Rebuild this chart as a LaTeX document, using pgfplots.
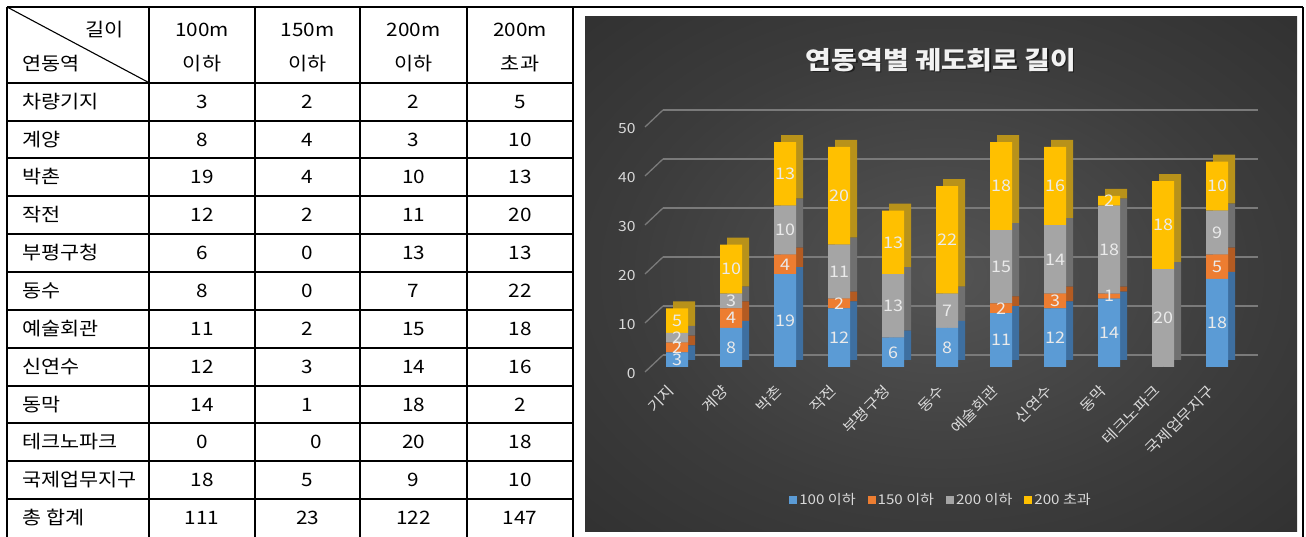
\documentclass[border=0pt]{standalone}
\usepackage{pgfplots}
\pgfplotsset{compat=1.18}
\usepackage{pgfplotstable}
\usepackage{fontspec}
\setmainfont{Noto Sans CJK KR}[FakeStretch=1.12]
\definecolor{c1}{HTML}{5B9BD5}
\definecolor{c2}{HTML}{ED7D31}
\definecolor{c3}{HTML}{A5A5A5}
\definecolor{c4}{HTML}{FFC000}
\definecolor{s1}{HTML}{3E6FA0}
\definecolor{s2}{HTML}{B35B22}
\definecolor{s3}{HTML}{707070}
\definecolor{s4}{HTML}{B8921A}
\definecolor{txt}{HTML}{D9D9D9}
\definecolor{lab}{HTML}{EAEAEA}
\definecolor{gridc}{HTML}{7A7A7A}
\definecolor{bga}{HTML}{545454}
\definecolor{bgb}{HTML}{3C3C3C}
\definecolor{bgc}{HTML}{2A2A2A}
\definecolor{bgd}{HTML}{252525}
\pgfdeclareradialshading{bgshade}{\pgfpoint{0bp}{0bp}}{color(0bp)=(bga); color(22bp)=(bgb); color(45bp)=(bgc); color(72bp)=(bgd)}
\pgfplotsset{/pgf/number format/assume math mode=true}
\pgfplotstableread{
x a b c d
0 3 2 2 5
1 8 4 3 10
2 19 4 10 13
3 12 2 11 20
4 6 0 13 13
5 8 0 7 22
6 11 2 15 18
7 12 3 14 16
8 14 1 18 2
9 0 0 20 18
10 18 5 9 10
}\data
\pgfplotsset{
  barbase/.style={
    scale only axis, width=594pt, height=244.5pt,
    xmin=-0.5, xmax=10.5, ymin=0, ymax=50,
    anchor=south west, clip=false,
    axis line style={draw=none}, major tick length=0pt,
    ytick=\empty,
  },
  labplot/.style={only marks, mark=*, mark size=0pt, mark options={draw=none,fill=none}},
}
\begin{document}
\begin{tikzpicture}[x=1pt,y=1pt]
\useasboundingbox (0,0) rectangle (1306,537);
% chart background
\shade[shading=bgshade] (585,5) rectangle (1297,520);
% back wall grid
\begin{axis}[scale only axis, width=595pt, height=245pt, at={(663pt,182pt)}, anchor=south west,
  xmin=0, xmax=1, ymin=0, ymax=50, clip=false,
  axis line style={draw=none}, major tick length=0pt, xtick=\empty,
  ytick={0,10,...,50}, ymajorgrids, grid style={gridc, line width=1.3pt},
  yticklabel style={text=txt, font=\fontsize{14}{15}\selectfont, xshift=-24pt, yshift=-19pt}]
\addplot[draw=none] coordinates {(0,0) (1,50)};
\pgfplotsinvokeforeach{0,10,...,50}{\draw[gridc, line width=1.3pt] (axis cs:0,#1) -- ++(-18pt,-17pt);}
\end{axis}
% back copy (side/top faces)
\begin{axis}[barbase, at={(657pt,177pt)}, ybar stacked, bar width=22pt, xtick=\empty]
\addplot[fill=s1, draw=none] table[x=x,y=a]{\data};
\addplot[fill=s2, draw=none] table[x=x,y=b]{\data};
\addplot[fill=s3, draw=none] table[x=x,y=c]{\data};
\addplot[fill=s4, draw=none] table[x=x,y=d]{\data};
\end{axis}
% front faces
\begin{axis}[barbase, at={(650pt,170pt)}, ybar stacked, bar width=22pt,
  xtick={0,...,10},
  xticklabels={기지,계양,박촌,작전,부평구청,동수,예술회관,신연수,동막,테크노파크,국제업무지구},
  xticklabel style={xshift=-3pt, yshift=-19pt, rotate=45, anchor=east, text=txt, font=\fontsize{14.5}{16}\selectfont},
  legend style={at={(0.49,-0.544)}, anchor=center, draw=none, fill=none, legend columns=4,
    text=txt, font=\fontsize{13.5}{15}\selectfont, /tikz/every even column/.append style={column sep=10pt}},
  legend image code/.code={\fill[#1] (0pt,-4pt) rectangle (8pt,4pt);}]
\addplot[fill=c1, draw=none] table[x=x,y=a]{\data};
\addplot[fill=c2, draw=none] table[x=x,y=b]{\data};
\addplot[fill=c3, draw=none] table[x=x,y=c]{\data};
\addplot[fill=c4, draw=none] table[x=x,y=d]{\data};
\legend{100 이하,150 이하,200 이하,200 초과}
\end{axis}
% data labels
\begin{axis}[barbase, at={(650pt,170pt)}, xtick=\empty,
  point meta=explicit,
  nodes near coords={\pgfmathfloatifflags{\pgfplotspointmeta}{0}{}{\pgfmathprintnumber{\pgfplotspointmeta}}},
  nodes near coords align={center},
  every node near coord/.append style={anchor=center, text=lab, font=\fontsize{16}{18}\selectfont}]
\addplot[labplot] table[x=x, y expr=\thisrow{a}/2, meta=a]{\data};
\addplot[labplot] table[x=x, y expr=\thisrow{a}+\thisrow{b}/2, meta=b]{\data};
\addplot[labplot] table[x=x, y expr=\thisrow{a}+\thisrow{b}+\thisrow{c}/2, meta=c]{\data};
\addplot[labplot] table[x=x, y expr=\thisrow{a}+\thisrow{b}+\thisrow{c}+\thisrow{d}/2, meta=d]{\data};
\end{axis}
% title
\node[text=black, opacity=0.5, font=\bfseries\fontsize{25}{28}\selectfont] at (942.5,475.5) {연동역별 궤도회로 길이};
\node[text=white!95!black, font=\bfseries\fontsize{25}{28}\selectfont] at (941,477) {연동역별 궤도회로 길이};
% table grid
\draw[line width=2.4pt] (7,530) -- (1303,530);
\foreach \xx in {7,149,255,360,467,573,1303} \draw[line width=2.1pt] (\xx,530) -- (\xx,-2);
\foreach \k in {0,...,11} \draw[line width=2.1pt] (7,454.3-37.86*\k) -- (573,454.3-37.86*\k);
\draw[line width=1.1pt] (7,530) -- (149,454.3);
% table text
\begin{scope}[font=\fontsize{18.5}{21}\selectfont]
\node[anchor=base east] at (127,500.5) {길이};
\node[anchor=base west] at (19,466.5) {연동역};
\foreach \cx/\la/\lb in {202/100m/이하, 307.5/150m/이하, 413.5/200m/이하, 520/200m/초과} {
  \node[anchor=base] at (\cx,500.5) {\la};
  \node[anchor=base] at (\cx,466.5) {\lb};
}
\foreach \name/\va/\vb/\vc/\vd/\off [count=\k from 0] in {차량기지/3/2/2/5/0, 계양/8/4/3/10/0, 박촌/19/4/10/13/0, 작전/12/2/11/20/0, 부평구청/6/0/13/13/0, 동수/8/0/7/22/0, 예술회관/11/2/15/18/0, 신연수/12/3/14/16/0, 동막/14/1/18/2/0, 테크노파크/0/0/20/18/9, 국제업무지구/18/5/9/10/0, 총 합계/111/23/122/147/0} {
  \pgfmathsetmacro\yy{454.3-37.86*(\k+0.5)-6.6}
  \node[anchor=base west] at (19,\yy) {\name};
  \node[anchor=base] at (202,\yy) {\va};
  \node[anchor=base] at (307.5+\off,\yy) {\vb};
  \node[anchor=base] at (413.5,\yy) {\vc};
  \node[anchor=base] at (520,\yy) {\vd};
}
\end{scope}
\end{tikzpicture}
\end{document}
